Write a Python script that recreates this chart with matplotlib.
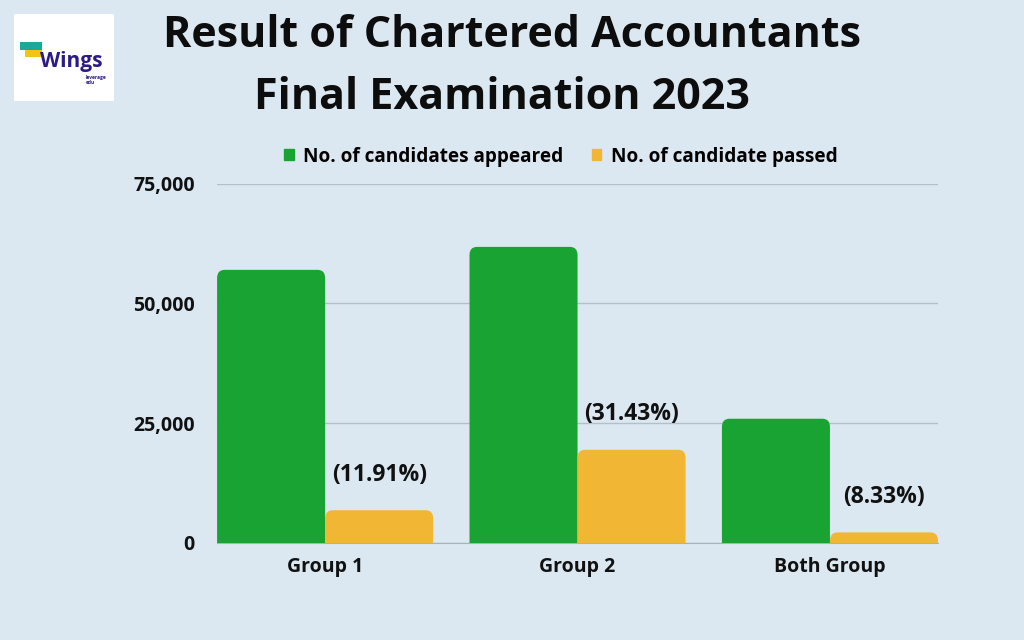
import matplotlib.pyplot as plt
import numpy as np
from matplotlib.patches import FancyBboxPatch, Rectangle, Patch
from matplotlib.ticker import FuncFormatter

plt.rcParams['font.family'] = ['Open Sans', 'DejaVu Sans']

# Data
groups = ["Group 1", "Group 2", "Both Group"]
appeared = [57000, 61800, 25900]
passed = [6790, 19420, 2160]
pass_pct = ["(11.91%)", "(31.43%)", "(8.33%)"]
series = ["No. of candidates appeared", "No. of candidate passed"]

bg = "#DCE8F1"
green = "#18A332"
yellow = "#F1B734"

fig = plt.figure(figsize=(10.24, 6.4), dpi=100, facecolor=bg)
ax = fig.add_axes([0.212, 0.152, 0.704, 0.561], facecolor=bg)

x = np.arange(len(groups))
w = 0.428
b1 = ax.bar(x - w / 2, appeared, w, color=green)
b2 = ax.bar(x + w / 2, passed, w, color=yellow)

# swap plain rectangles for rounded ones (bottom corners hidden below 0)
r = 0.03
asp = 1700 / r
for bars in (b1, b2):
    for rect in bars:
        rect.set_visible(False)
        x0, wd, h = rect.get_x(), rect.get_width(), rect.get_height()
        p = FancyBboxPatch((x0 + r, -3000), wd - 2 * r, h + 3000 - r * asp,
                           boxstyle=f"round,pad={r},rounding_size={r}",
                           mutation_aspect=asp, fc=rect.get_facecolor(),
                           ec="none", zorder=3, clip_on=True)
        ax.add_patch(p)

for xi, v, t in zip(x, passed, pass_pct):
    ax.annotate(t, (xi + w / 2, v), xytext=(0, 17), textcoords="offset points",
                ha="center", va="bottom", fontsize=16.5, fontweight="bold", color="#111111")

ax.set_xlim(-w, len(groups) - 1 + w)
ax.set_ylim(0, 75000)
ax.set_yticks([0, 25000, 50000, 75000])
ax.yaxis.set_major_formatter(FuncFormatter(lambda v, p: f"{int(v):,}"))
ax.set_xticks(x)
ax.set_xticklabels(groups)
ax.grid(axis="y", color="#B4C0C8", linewidth=1, zorder=0)
ax.set_axisbelow(True)
for s in ["top", "right", "left"]:
    ax.spines[s].set_visible(False)
ax.spines["bottom"].set_color("#A8B2BA")
ax.tick_params(axis="both", length=0, labelsize=14, colors="#111111")
ax.tick_params(axis="y", pad=16)
ax.tick_params(axis="x", pad=10)
for lbl in ax.get_xticklabels() + ax.get_yticklabels():
    lbl.set_fontweight("bold")

handles = [Patch(color=green), Patch(color=yellow)]
leg = ax.legend(handles, series, loc="lower center", bbox_to_anchor=(0.477, 1.0), ncol=2,
                frameon=False, fontsize=13.7, handlelength=0.5, handleheight=0.5,
                columnspacing=1.5, handletextpad=0.5)
for t in leg.get_texts():
    t.set_fontweight("bold")

# Title
fig.text(0.5, 0.945, "Result of Chartered Accountants", ha="center", va="center",
         fontsize=31, fontweight="bold", color="#0D0D0D")
fig.text(0.49, 0.848, "Final Examination 2023", ha="center", va="center",
         fontsize=31, fontweight="bold", color="#0D0D0D")

# Logo
fig.patches.append(Rectangle((14 / 1024, 1 - 101 / 640), 100 / 1024, 87 / 640,
                             transform=fig.transFigure, fc="white", ec="none"))
fig.patches.append(Rectangle((20 / 1024, 1 - 50 / 640), 22 / 1024, 8 / 640,
                             transform=fig.transFigure, fc="#19A89A", ec="none"))
fig.patches.append(Rectangle((25 / 1024, 1 - 57 / 640), 17 / 1024, 7 / 640,
                             transform=fig.transFigure, fc="#F2C418", ec="none"))
fig.text(40 / 1024, 1 - 61 / 640, "Wings", ha="left", va="center", fontsize=15,
         fontweight="bold", color="#2E1A87")
fig.text(86 / 1024, 1 - 80 / 640, "leverage\nedu", ha="left", va="center", fontsize=3.5,
         fontweight="bold", color="#2E1A87", linespacing=0.9)

fig.savefig("out.png", dpi=100, facecolor=bg)
